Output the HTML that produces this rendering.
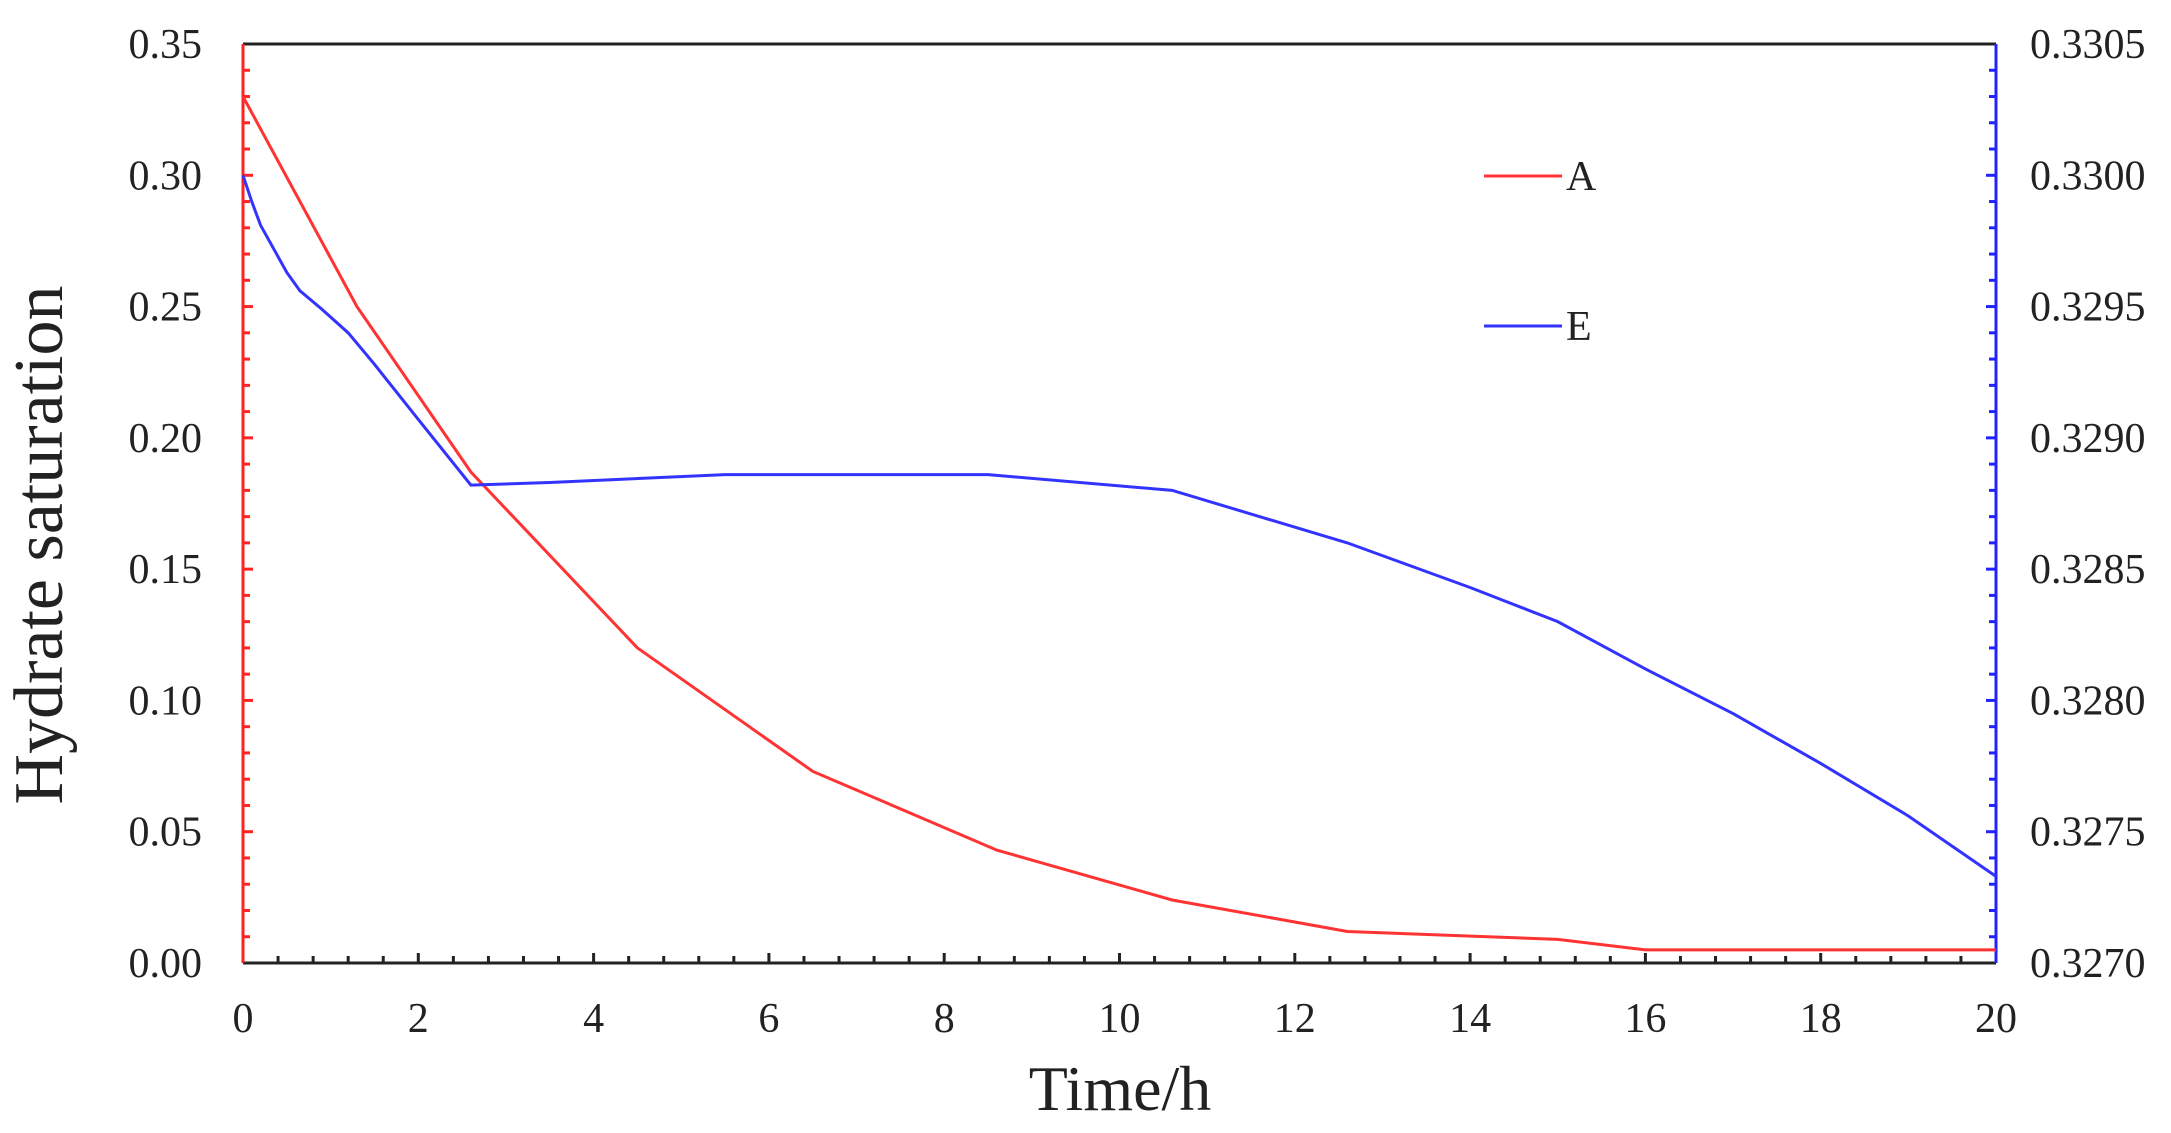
<!DOCTYPE html>
<html><head><style>
body{margin:0;background:#fff;}
svg text{font-family:"Liberation Serif",serif;fill:#222;}
</style></head><body>
<svg width="2171" height="1128" viewBox="0 0 2171 1128" xmlns="http://www.w3.org/2000/svg">
<g id="ticks"></g>
<line x1="243" y1="44" x2="1996" y2="44" stroke="#222" stroke-width="3"/>
<line x1="243" y1="963" x2="1996" y2="963" stroke="#222" stroke-width="3"/>
<line x1="243" y1="44" x2="243" y2="963" stroke="#f22" stroke-width="3"/>
<line x1="1996" y1="44" x2="1996" y2="963" stroke="#22f" stroke-width="3"/>
<g font-size="42" text-anchor="end" id="ly"></g>
<g font-size="42" text-anchor="start" id="ry"></g>
<g font-size="42" text-anchor="middle" id="bx"></g>
<text x="1120" y="1110" font-size="64" text-anchor="middle">Time/h</text>
<text transform="translate(62,545) rotate(-90)" font-size="70" text-anchor="middle">Hydrate saturation</text>
<polyline id="red" fill="none" stroke="#f33" stroke-width="3"/>
<polyline id="blue" fill="none" stroke="#33f" stroke-width="3"/>
<line x1="1484" y1="176" x2="1562" y2="176" stroke="#f33" stroke-width="3"/>
<text x="1566" y="190" font-size="42">A</text>
<line x1="1484" y1="326" x2="1562" y2="326" stroke="#33f" stroke-width="3"/>
<text x="1566" y="340" font-size="42">E</text>
</svg>
<script>
const X=t=>243+t*87.65, Y=v=>963-v*2625.7;
const ns="http://www.w3.org/2000/svg";
function el(p,tag,a,txt){const e=document.createElementNS(ns,tag);for(const k in a)e.setAttribute(k,a[k]);if(txt)e.textContent=txt;p.appendChild(e);}
const tk=document.getElementById('ticks');
for(let i=0;i<=35;i++){const y=Y(i*0.01);const L=i%5==0?10:7;
 el(tk,'line',{x1:243,y1:y,x2:243+L,y2:y,stroke:'#f22','stroke-width':3});
 el(tk,'line',{x1:1996,y1:y,x2:1996-L,y2:y,stroke:'#22f','stroke-width':3});}
for(let i=0;i<=50;i++){const x=X(i*0.4);const L=i%5==0?10:7;
 el(tk,'line',{x1:x,y1:963,x2:x,y2:963-L,stroke:'#222','stroke-width':3});}
const ly=document.getElementById('ly'),ry=document.getElementById('ry'),bx=document.getElementById('bx');
for(let i=0;i<=7;i++){const v=i*0.05,y=Y(v)+14;
 el(ly,'text',{x:202,y:y},v.toFixed(2));
 el(ry,'text',{x:2030,y:y},(0.327+i*0.0005).toFixed(4));}
for(let t=0;t<=20;t+=2)el(bx,'text',{x:X(t),y:1032},String(t));
const red=[[0,0.33],[1.3,0.25],[2.6,0.187],[4.5,0.12],[6.5,0.073],[8.6,0.043],[10.6,0.024],[12.6,0.012],[15,0.009],[16,0.005],[20,0.005]];
const blue=[[0,0.3],[0.1,0.29],[0.2,0.281],[0.35,0.272],[0.5,0.263],[0.65,0.256],[0.9,0.249],[1.2,0.24],[1.5,0.228],[2,0.207],[2.6,0.182],[3.5,0.183],[5.5,0.186],[8.5,0.186],[10.6,0.18],[12.6,0.16],[14,0.143],[15,0.13],[16,0.112],[17,0.095],[18,0.076],[19,0.056],[20,0.033]];
document.getElementById('red').setAttribute('points',red.map(p=>X(p[0])+','+Y(p[1])).join(' '));
document.getElementById('blue').setAttribute('points',blue.map(p=>X(p[0])+','+Y(p[1])).join(' '));
</script>
</body></html>
